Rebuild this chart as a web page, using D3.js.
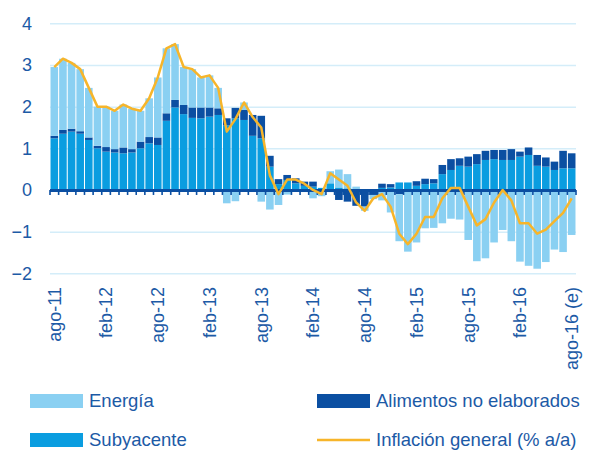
<!DOCTYPE html>
<html>
<head>
<meta charset="utf-8">
<script src="https://cdn.jsdelivr.net/npm/d3@7"></script>
<style>
  body { margin: 0; background: #fff; }
  svg { font-family: "Liberation Sans", Arial, sans-serif; }
</style>
</head>
<body>
<svg id="chart" width="592" height="460"></svg>
<script>
// months ago-11 .. ago-16 (61 values)
var meses = ["ago-11","sep-11","oct-11","nov-11","dic-11",
  "ene-12","feb-12","mar-12","abr-12","may-12","jun-12","jul-12","ago-12","sep-12","oct-12","nov-12","dic-12",
  "ene-13","feb-13","mar-13","abr-13","may-13","jun-13","jul-13","ago-13","sep-13","oct-13","nov-13","dic-13",
  "ene-14","feb-14","mar-14","abr-14","may-14","jun-14","jul-14","ago-14","sep-14","oct-14","nov-14","dic-14",
  "ene-15","feb-15","mar-15","abr-15","may-15","jun-15","jul-15","ago-15","sep-15","oct-15","nov-15","dic-15",
  "ene-16","feb-16","mar-16","abr-16","may-16","jun-16","jul-16","ago-16"];

var subyacente = [1.24,1.35,1.40,1.35,1.20, 1.00,0.92,0.90,0.88,0.90,1.00,1.12,1.08,1.66,1.98,1.82,1.73,
  1.72,1.76,1.80,1.55,1.72,1.68,1.30,1.24,0.56,0.14,0.24,0.16, 0.10,0.08,0.05,0.16,0.06,0.04,0.02,0.00,0.02,0.05,0.06,0.18,
  0.18,0.10,0.14,0.16,0.38,0.48,0.58,0.56,0.62,0.72,0.74,0.72, 0.72,0.80,0.84,0.58,0.56,0.48,0.52,0.52];

var alimentos = [0.06,0.09,0.07,0.06,0.06, 0.06,0.11,0.08,0.14,0.08,0.16,0.15,0.18,0.18,0.18,0.22,0.25,
  0.26,0.22,0.16,0.17,0.25,0.24,0.50,0.54,0.26,0.12,0.12,0.12, 0.10,0.12,-0.05,-0.05,-0.24,-0.28,-0.38,-0.40,-0.12,0.10,0.08,-0.10,
  -0.02,0.11,0.13,0.10,0.22,0.26,0.18,0.24,0.24,0.22,0.22,0.24, 0.26,0.12,0.18,0.26,0.22,0.20,0.42,0.36];

var energia = [1.65,1.71,1.58,1.49,1.19, 0.94,0.97,0.92,1.03,0.97,0.74,0.93,1.44,1.56,1.34,0.91,0.92,
  0.72,0.77,0.49,-0.32,-0.27,0.18,-0.05,-0.28,-0.47,-0.36,-0.11,-0.03, -0.05,-0.20,-0.10,0.29,0.43,0.34,0.06,-0.10,-0.10,-0.25,-0.54,-1.13,
  -1.46,-1.26,-0.92,-0.91,-0.80,-0.69,-0.71,-1.20,-1.71,-1.64,-1.26,-0.96, -1.23,-1.72,-1.82,-1.89,-1.73,-1.43,-1.49,-1.08];

var inflacion = [2.95,3.15,3.05,2.90,2.45, 2.00,2.00,1.90,2.05,1.95,1.90,2.20,2.70,3.40,3.50,2.95,2.90,
  2.70,2.75,2.45,1.40,1.70,2.10,1.75,1.50,0.35,-0.10,0.25,0.25, 0.15,0.00,-0.10,0.40,0.25,0.10,-0.30,-0.50,-0.20,-0.10,-0.40,-1.05,
  -1.30,-1.05,-0.65,-0.65,-0.20,0.05,0.05,-0.40,-0.85,-0.70,-0.30,0.00, -0.25,-0.80,-0.80,-1.05,-0.95,-0.75,-0.55,-0.20];

var tickIdx = [0,6,12,18,24,30,36,42,48,54,60];
var tickLabels = ["ago-11","feb-12","ago-12","feb-13","ago-13","feb-14","ago-14","feb-15","ago-15","feb-16","ago-16 (e)"];
var yTicks = [-2,-1,0,1,2,3,4];

var colores = {sub: "#0a9de0", alim: "#0b4fa2", energia: "#8ad0f2", linea: "#f7b52a"};
var textColor = "#1c5aa6";

var svg = d3.select("#chart"),
    x0 = 50, x1 = 576, yTop = 23.3, yBottom = 273.3;

var data = meses.map(function(m, i) {
  return {i: i, sub: subyacente[i], alim: alimentos[i], energia: energia[i], total: inflacion[i]};
});

var x = d3.scaleBand()
    .domain(d3.range(meses.length))
    .range([x0, x1])
    .paddingInner(0.12)
    .paddingOuter(0.06);

var y = d3.scaleLinear()
    .domain([-2, 4])
    .range([yBottom, yTop]);

// grid + y labels
var gy = svg.append("g")
    .attr("transform", "translate(" + x0 + ",0)")
    .call(d3.axisLeft(y).tickValues(yTicks).tickSize(-(x1 - x0)).tickPadding(18).tickFormat(d3.format("d")));
gy.select(".domain").remove();
gy.selectAll(".tick line").attr("stroke", "#d4edf9").attr("stroke-width", 1.5);
gy.selectAll(".tick text")
    .attr("fill", textColor)
    .style("font-size", "18px");

// stacked bars
var stack = d3.stack()
    .keys(["sub", "alim", "energia"])
    .offset(d3.stackOffsetDiverging);

svg.append("g").selectAll("g")
  .data(stack(data))
  .join("g")
    .attr("fill", function(d) { return colores[d.key]; })
  .selectAll("rect")
  .data(function(d) { return d; })
  .join("rect")
    .attr("x", function(d) { return x(d.data.i); })
    .attr("width", x.bandwidth())
    .attr("y", function(d) { return y(d[1]); })
    .attr("height", function(d) { return Math.abs(y(d[0]) - y(d[1])); });

// zero axis with month ticks
var step = x.step();
var axis0 = svg.append("g");
axis0.append("line")
    .attr("x1", x0).attr("x2", x1)
    .attr("y1", y(0) + 0.5).attr("y2", y(0) + 0.5)
    .attr("stroke", colores.alim).attr("stroke-width", 3);
axis0.selectAll("line.tk")
  .data(d3.range(meses.length + 1))
  .join("line")
    .attr("class", "tk")
    .attr("x1", function(i) { return x0 + i * step; })
    .attr("x2", function(i) { return x0 + i * step; })
    .attr("y1", y(0)).attr("y2", y(0) + 5)
    .attr("stroke", colores.alim).attr("stroke-width", 1.6);

// x labels
var gx = svg.append("g")
    .attr("transform", "translate(0,282)")
    .call(d3.axisBottom(x).tickValues(tickIdx).tickSize(0)
      .tickFormat(function(d) { return tickLabels[tickIdx.indexOf(d)]; }));
gx.select(".domain").remove();
gx.selectAll(".tick text")
    .attr("transform", "rotate(-90)")
    .attr("x", -5)
    .attr("y", 0)
    .attr("dy", "0.35em")
    .style("text-anchor", "end")
    .style("font-size", "18px")
    .attr("fill", textColor);

// inflation line
var line = d3.line()
    .x(function(d) { return x(d.i) + x.bandwidth() / 2; })
    .y(function(d) { return y(d.total); });

svg.append("path")
    .datum(data)
    .attr("fill", "none")
    .attr("stroke", colores.linea)
    .attr("stroke-width", 2.5)
    .attr("stroke-linejoin", "round")
    .attr("d", line);

// legend
var legend = [
  {label: "Energía", color: colores.energia, type: "rect", x: 30, y: 401},
  {label: "Alimentos no elaborados", color: colores.alim, type: "rect", x: 317, y: 401},
  {label: "Subyacente", color: colores.sub, type: "rect", x: 30, y: 440},
  {label: "Inflación general (% a/a)", color: colores.linea, type: "line", x: 317, y: 440}
];

var lg = svg.append("g").selectAll("g")
  .data(legend)
  .join("g")
    .attr("transform", function(d) { return "translate(" + d.x + "," + d.y + ")"; });

lg.filter(function(d) { return d.type === "rect"; })
  .append("rect")
    .attr("x", 0).attr("y", -7)
    .attr("width", 53).attr("height", 14)
    .attr("fill", function(d) { return d.color; });

lg.filter(function(d) { return d.type === "line"; })
  .append("line")
    .attr("x1", 0).attr("x2", 53)
    .attr("y1", 0).attr("y2", 0)
    .attr("stroke", function(d) { return d.color; })
    .attr("stroke-width", 2.5);

lg.append("text")
    .attr("x", 59)
    .attr("y", 0)
    .attr("dy", "0.35em")
    .attr("fill", textColor)
    .style("font-size", "18.5px")
    .text(function(d) { return d.label; });
</script>
</body>
</html>
